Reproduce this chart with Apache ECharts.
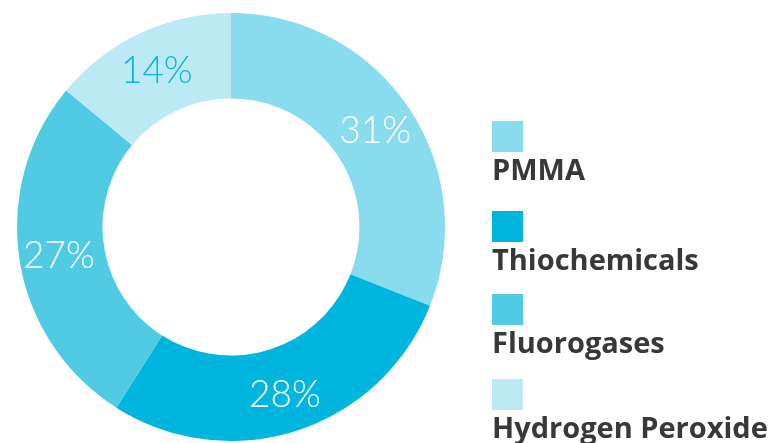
<!DOCTYPE html>
<html>
<head>
<meta charset="utf-8">
<script src="https://cdn.jsdelivr.net/npm/echarts@6/dist/echarts.min.js"></script>
<style>
html,body{margin:0;padding:0;background:#fff;}
#chart{width:769px;height:443px;}
</style>
</head>
<body>
<div id="chart"></div>
<script>
const categories = ['PMMA', 'Thiochemicals', 'Fluorogases', 'Hydrogen Peroxide'];
const shares = [31, 28, 27, 14];
const colors = ['#89DBEE', '#00B6DE', '#51CBE3', '#BBEAF5'];
const labelColors = ['#ffffff', '#ffffff', '#ffffff', '#0DB4DA'];

// legend layout (pixels)
const legendLeft = 492;
const legendIconTops = [121, 211, 294, 379];
const legendTextOffset = 51;

const chart = echarts.init(document.getElementById('chart'));
chart.setOption({
  animation: false,
  backgroundColor: '#ffffff',
  legend: categories.map((name, i) => ({
    orient: 'vertical',
    left: legendLeft,
    top: legendIconTops[i],
    padding: 0,
    itemWidth: 31,
    itemHeight: 31,
    icon: 'rect',
    selectedMode: false,
    data: [name],
    formatter: () => ''
  })),
  graphic: categories.map((name, i) => ({
    type: 'text',
    x: legendLeft,
    y: legendIconTops[i] + legendTextOffset,
    silent: true,
    style: {
      text: name,
      fontFamily: '"Open Sans", sans-serif',
      fontWeight: 'bold',
      fontSize: 29,
      fill: '#383838',
      align: 'left',
      verticalAlign: 'middle'
    }
  })),
  series: [{
    type: 'pie',
    center: [231, 227],
    radius: [128.5, 214],
    startAngle: 90,
    clockwise: true,
    avoidLabelOverlap: false,
    emphasis: { disabled: true },
    label: {
      show: true,
      position: 'inside',
      formatter: '{c}%',
      fontFamily: 'Lato, sans-serif',
      fontWeight: 300,
      fontSize: 37,
      offset: [0, 2]
    },
    labelLine: { show: false },
    data: categories.map((name, i) => ({
      name: name,
      value: shares[i],
      itemStyle: { color: colors[i] },
      label: { color: labelColors[i] }
    }))
  }]
});
</script>
</body>
</html>
